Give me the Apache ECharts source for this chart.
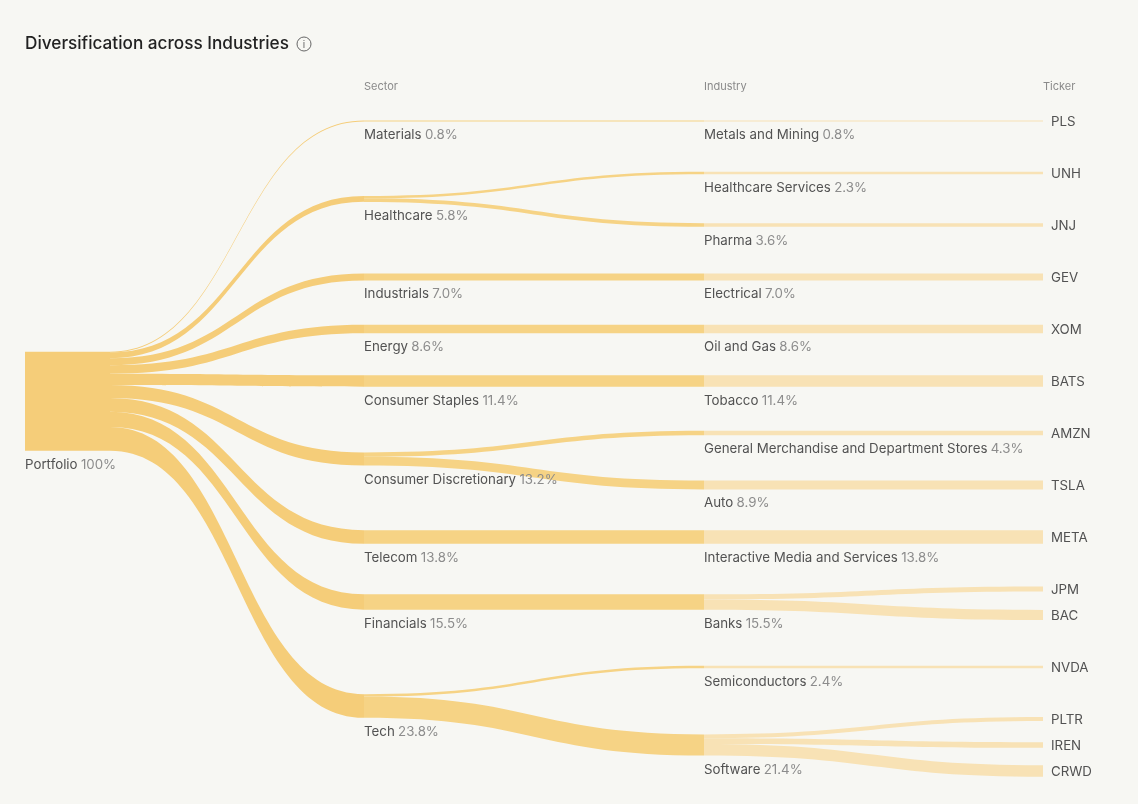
<html lang="en">

<head>
    <meta charset="UTF-8">
    <title>Diversification across Industries</title>
    <script src="https://cdn.jsdelivr.net/npm/echarts@6/dist/echarts.min.js"></script>
    <style>
        html, body {
            margin: 0;
            padding: 0;
            background: #f7f7f3;
        }
        #chart {
            width: 1138px;
            height: 804px;
        }
    </style>
</head>

<body>
    <div id="chart"></div>

    <script>
        // data
        const portfolioName = 'Portfolio';
        const portfolioPct = 100;

        const sectors = ['Materials', 'Healthcare', 'Industrials', 'Energy', 'Consumer Staples',
            'Consumer Discretionary', 'Telecom', 'Financials', 'Tech'];
        const sectorPct = [0.8, 5.8, 7.0, 8.6, 11.4, 13.2, 13.8, 15.5, 23.8];

        const industries = ['Metals and Mining', 'Healthcare Services', 'Pharma', 'Electrical', 'Oil and Gas',
            'Tobacco', 'General Merchandise and Department Stores', 'Auto', 'Interactive Media and Services',
            'Banks', 'Semiconductors', 'Software'];
        const industrySector = ['Materials', 'Healthcare', 'Healthcare', 'Industrials', 'Energy',
            'Consumer Staples', 'Consumer Discretionary', 'Consumer Discretionary', 'Telecom',
            'Financials', 'Tech', 'Tech'];
        const industryPct = [0.8, 2.3, 3.6, 7.0, 8.6, 11.4, 4.3, 8.9, 13.8, 15.5, 2.4, 21.4];

        const tickers = ['PLS', 'UNH', 'JNJ', 'GEV', 'XOM', 'BATS', 'AMZN', 'TSLA', 'META',
            'JPM', 'BAC', 'NVDA', 'PLTR', 'IREN', 'CRWD'];
        const tickerIndustry = ['Metals and Mining', 'Healthcare Services', 'Pharma', 'Electrical', 'Oil and Gas',
            'Tobacco', 'General Merchandise and Department Stores', 'Auto', 'Interactive Media and Services',
            'Banks', 'Banks', 'Semiconductors', 'Software', 'Software', 'Software'];
        const tickerPct = [0.8, 2.3, 3.6, 7.0, 8.6, 11.4, 4.3, 8.9, 13.8, 5.3, 10.2, 2.4, 3.8, 5.8, 11.8];

        const columnTitles = ['Sector', 'Industry', 'Ticker'];

        // layout settings
        const W = 1138, H = 804;
        const colX = [25, 110, 364, 704, 1043]; // portfolio, portfolio end, sector, industry, ticker
        const firstRowY = 121, rowStep = 26;
        const ky = 0.99; // px per percent
        const linkColors = ['#f5cd79', '#f6d385', '#f8e2b5'];
        const labelFont = 'Inter';
        const labelSize = 13.3;

        const sum = arr => arr.reduce((a, b) => a + b, 0);
        const fmt = v => v.toFixed(1);
        const mean = arr => sum(arr) / arr.length;

        // tickers sit on a row grid, one empty row between industries
        const tickerCenter = [];
        let row = 0;
        tickers.forEach((t, i) => {
            if (i > 0 && tickerIndustry[i] !== tickerIndustry[i - 1]) row++;
            tickerCenter.push(firstRowY + row * rowStep);
            row++;
        });
        const industryCenter = industries.map(ind =>
            mean(tickerCenter.filter((c, i) => tickerIndustry[i] === ind)));
        const sectorCenter = sectors.map(sec =>
            mean(industryCenter.filter((c, i) => industrySector[i] === sec)));
        const portfolioCenter = mean(sectorCenter);

        const totalSectors = sum(sectorPct);
        const industryOut = industries.map(ind => sum(tickerPct.filter((v, i) => tickerIndustry[i] === ind)));
        const sectorOut = sectors.map(sec => sum(industryPct.filter((v, i) => industrySector[i] === sec)));

        const nodeGap = (H - ky * sum(tickerPct)) / (tickers.length - 1);

        const bottomLabel = (pctText) => ({
            show: true,
            position: [0, '100%'],
            offset: [0, 7],
            align: 'left',
            verticalAlign: 'top',
            formatter: p => `{n|${p.name}} {v|${pctText}%}`,
            rich: {
                n: { fontFamily: labelFont, fontSize: labelSize, color: '#525252', lineHeight: 14 },
                v: { fontFamily: labelFont, fontSize: labelSize, color: '#8c8c8c', lineHeight: 14 }
            }
        });

        const placed = (name, x, center, value, label) => ({
            name: name,
            localX: x / W,
            localY: (center - value * ky / 2) / H,
            label: label
        });

        const nodes = [];
        nodes.push(placed(portfolioName, colX[0], portfolioCenter, totalSectors, bottomLabel(String(portfolioPct))));
        nodes.push(placed(portfolioName + ' ', colX[1], portfolioCenter, totalSectors, { show: false }));
        sectors.forEach((s, i) => {
            nodes.push(placed(s, colX[2], sectorCenter[i], Math.max(sectorPct[i], sectorOut[i]), bottomLabel(fmt(sectorPct[i]))));
        });
        industries.forEach((s, i) => {
            nodes.push(placed(s, colX[3], industryCenter[i], Math.max(industryPct[i], industryOut[i]), bottomLabel(fmt(industryPct[i]))));
        });
        tickers.forEach((s, i) => {
            nodes.push(placed(s, colX[4], tickerCenter[i], tickerPct[i], {
                show: true,
                position: 'right',
                distance: 8,
                offset: [0, 1],
                fontFamily: labelFont,
                fontSize: labelSize,
                color: '#525252'
            }));
        });

        const links = [];
        links.push({ source: portfolioName, target: portfolioName + ' ', value: totalSectors, lineStyle: { color: linkColors[0] } });
        sectors.forEach((s, i) => {
            links.push({ source: portfolioName + ' ', target: s, value: sectorPct[i], lineStyle: { color: linkColors[0] } });
        });
        industries.forEach((s, i) => {
            links.push({ source: industrySector[i], target: s, value: industryPct[i], lineStyle: { color: linkColors[1] } });
        });
        tickers.forEach((s, i) => {
            links.push({ source: tickerIndustry[i], target: s, value: tickerPct[i], lineStyle: { color: linkColors[2] } });
        });

        const chart = echarts.init(document.getElementById('chart'));

        const option = {
            backgroundColor: '#f7f7f3',
            animation: false,
            title: [{
                text: 'Diversification across Industries',
                left: 25,
                top: 35,
                padding: 0,
                textStyle: { fontFamily: 'Inter', fontSize: 17.2, fontWeight: 500, color: '#222222' }
            }].concat(columnTitles.map((t, i) => ({
                text: t,
                left: colX[i + 2],
                top: 81,
                padding: 0,
                textStyle: { fontFamily: 'Inter', fontSize: 11, fontWeight: 'normal', color: '#8a8a8a' }
            }))),
            graphic: [{
                type: 'circle',
                shape: { cx: 304, cy: 44, r: 7 },
                style: { fill: 'none', stroke: '#666666', lineWidth: 1 }
            }, {
                type: 'text',
                x: 304,
                y: 44.5,
                style: {
                    text: 'i', fontFamily: 'Inter', fontSize: 10, fill: '#666666',
                    align: 'center', verticalAlign: 'middle'
                }
            }],
            series: [{
                type: 'sankey',
                left: 0,
                top: 0,
                right: 0,
                bottom: 0,
                nodeWidth: 0,
                nodeGap: nodeGap,
                layoutIterations: 0,
                draggable: false,
                emphasis: { disabled: true },
                itemStyle: { color: 'rgba(0,0,0,0)', borderWidth: 0 },
                lineStyle: { curveness: 0.5, opacity: 1 },
                data: nodes,
                links: links
            }]
        };

        chart.setOption(option);
    </script>
</body>

</html>
